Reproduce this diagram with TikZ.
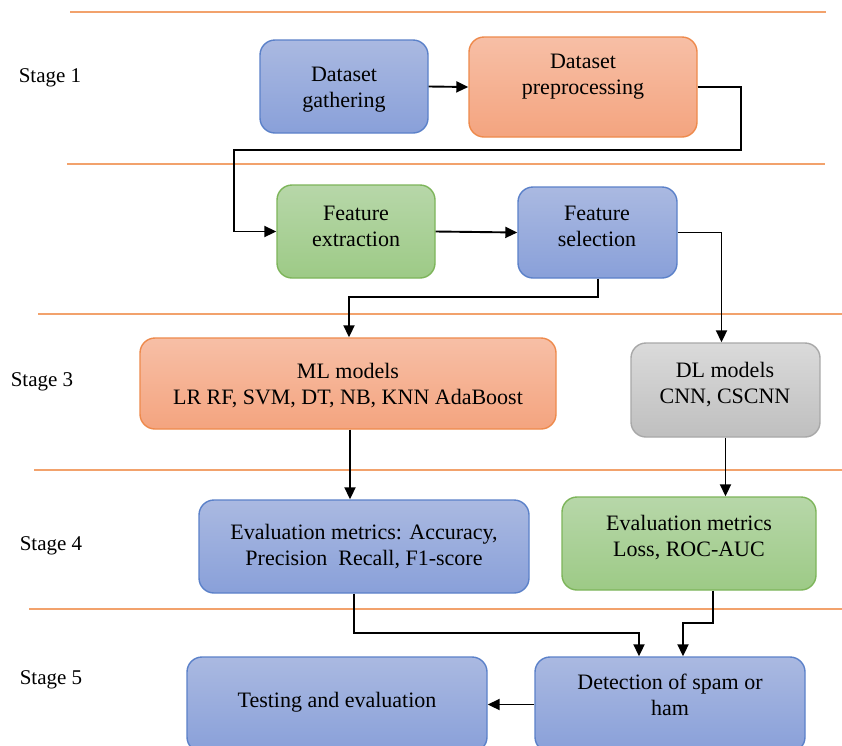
\documentclass[tikz,border=0pt]{standalone}
\usepackage{fontspec}
\setmainfont{Liberation Serif}
\usetikzlibrary{arrows.meta}
\definecolor{bluetop}{HTML}{AAB9E1}
\definecolor{bluebot}{HTML}{89A0D9}
\definecolor{blueedge}{HTML}{5B81C9}
\definecolor{ortop}{HTML}{F7BFA6}
\definecolor{orbot}{HTML}{F4A47F}
\definecolor{oredge}{HTML}{EE8A4C}
\definecolor{grtop}{HTML}{B7D7A9}
\definecolor{grbot}{HTML}{9DCA86}
\definecolor{gredge}{HTML}{7DB55A}
\definecolor{gytop}{HTML}{DADADA}
\definecolor{gybot}{HTML}{BFBFBF}
\definecolor{gyedge}{HTML}{A8A8A8}
\definecolor{sepline}{HTML}{F2A26C}
\tikzset{
  box/.style={draw, line width=1.4pt, rounded corners=15pt, inner sep=0pt},
  bluebox/.style={box, draw=blueedge, top color=bluetop, bottom color=bluebot},
  orbox/.style={box, draw=oredge, top color=ortop, bottom color=orbot},
  grbox/.style={box, draw=gredge, top color=grtop, bottom color=grbot},
  gybox/.style={box, draw=gyedge, top color=gytop, bottom color=gybot},
  lbl/.style={align=center, font=\fontsize{22}{26}\selectfont, inner sep=0pt},
  stagelbl/.style={font=\fontsize{21}{25}\selectfont, inner sep=0pt},
  sep/.style={draw=sepline, line width=2.2pt},
  arr/.style={draw=black, line width=1.9pt, -{Triangle[length=12pt,width=11pt]}},
}
\begin{document}
\begin{tikzpicture}[x=1pt,y=-1pt]
\clip (0,0) rectangle (842,745);
\fill[white] (0,0) rectangle (842,745);

% separator lines
\draw[sep] (70,12) -- (826,12);
\draw[sep] (67,164) -- (825,164);
\draw[sep] (38,314) -- (842,314);
\draw[sep] (34,470) -- (842,470);
\draw[sep] (29,609) -- (842,609);

% stage labels
\node[stagelbl] (s1) at (50,78) {Stage 1};
\node[stagelbl] (s3) at (42,382) {Stage 3};
\node[stagelbl] (s4) at (51,546) {Stage 4};
\node[stagelbl] (s5) at (51,680) {Stage 5};

% boxes
\node[bluebox, minimum width=168pt, minimum height=93pt] (gath) at (344,86.5) {};
\node[orbox, minimum width=228pt, minimum height=100pt] (prep) at (583,87) {};
\node[grbox, minimum width=158pt, minimum height=93pt] (ext) at (356,231.5) {};
\node[bluebox, minimum width=159pt, minimum height=91pt] (sel) at (597.5,232.5) {};
\node[orbox, minimum width=416pt, minimum height=91pt] (ml) at (348,383.5) {};
\node[gybox, minimum width=189pt, minimum height=94pt] (dl) at (725.5,390) {};
\node[bluebox, minimum width=330pt, minimum height=93pt] (evml) at (364,546.5) {};
\node[grbox, minimum width=254pt, minimum height=93pt] (evdl) at (689,543.5) {};
\node[bluebox, minimum width=300pt, minimum height=95pt] (test) at (337,704.5) {};
\node[bluebox, minimum width=270pt, minimum height=95pt] (det) at (670,704.5) {};

% texts
\node[lbl] (gatht) at (344,90) {Dataset\\gathering};
\node[lbl] (prept) at (583,77) {Dataset\\preprocessing};
\node[lbl] (extt) at (356,226) {Feature\\extraction};
\node[lbl] (selt) at (597,226) {Feature\\selection};
\node[lbl] (mlt) at (348,386) {ML models\\LR RF, SVM, DT, NB, KNN AdaBoost};
\node[lbl] (dlt) at (725,385) {DL models\\CNN, CSCNN};
\node[lbl] (evmlt) at (364,547) {Evaluation metrics: Accuracy,\\Precision\ \ Recall, F1-score};
\node[lbl] (evdlt) at (689,538) {Evaluation metrics\\Loss, ROC-AUC};
\node[lbl] (testt) at (337,702) {Testing and evaluation};
\node[lbl] (dett) at (670,695) {Detection of spam or\\ham};

% connector waypoints
\coordinate (w1) at (741,150);
\coordinate (w2) at (234,150);
\coordinate (w3) at (598,297);
\coordinate (w4) at (354,633);
\coordinate (w5) at (713,623);

% connectors
\draw[arr] (gath.east) -- (prep.west);
\draw[arr] (prep.east) -| (w1) -- (w2) |- (ext.west);
\draw[arr] (ext.east) -- (sel.west);
\draw[arr] (sel.east) -| ([xshift=-4pt]dl.north);
\draw[arr] (sel.south -| w3) -- (w3) -| ([xshift=1pt]ml.north);
\draw[arr] ([xshift=2pt]ml.south) -- ([xshift=2pt]ml.south |- evml.north);
\draw[arr] (dl.south) -- (dl.south |- evdl.north);
\draw[arr] (evml.south -| w4) -- (w4) -| ([xshift=-31pt]det.north);
\draw[arr] (evdl.south -| w5) -- (w5) -| ([xshift=13pt]det.north);
\draw[arr] (det.west) -- (test.east);
\end{tikzpicture}
\end{document}
